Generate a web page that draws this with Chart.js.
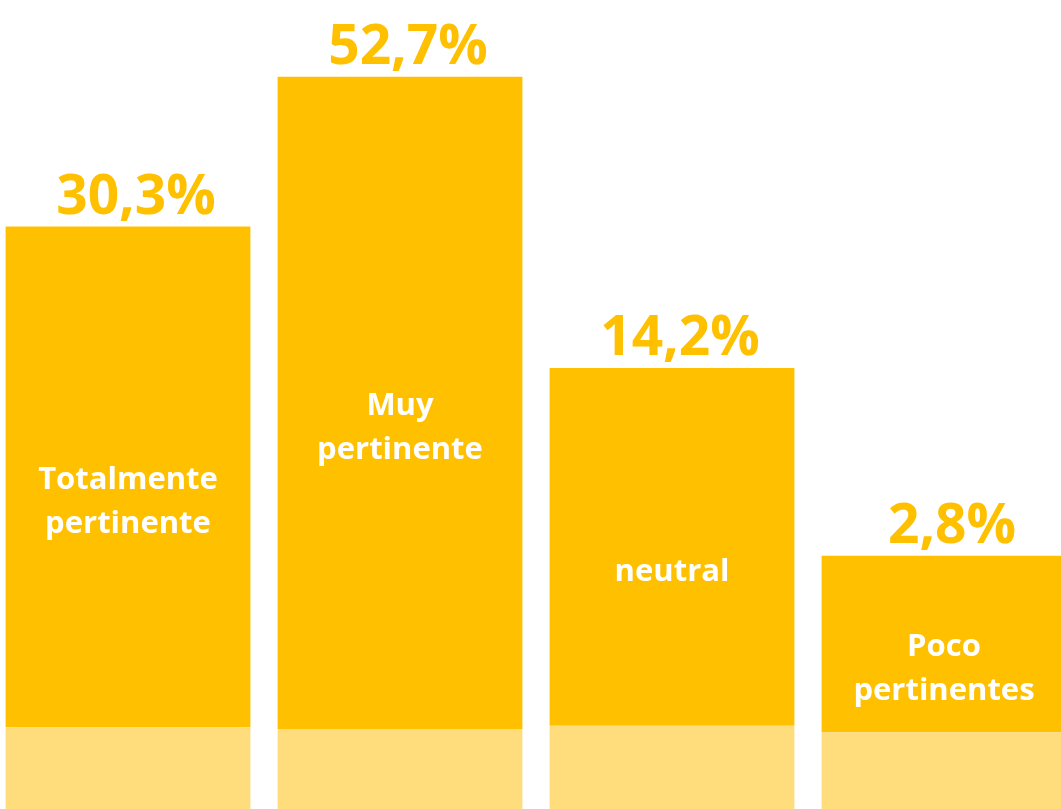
<!DOCTYPE html>
<html>
<head>
    <title>Pertinencia</title>
    <script src="https://cdn.jsdelivr.net/npm/chart.js@4/dist/chart.umd.min.js"></script>
    <style>
        body { margin: 0; overflow: hidden; background: #fff; }
        #wrap { position: absolute; left: -8px; top: 0; width: 1088px; height: 809px; }
    </style>
</head>
<body>
    <div id="wrap"><canvas id="bars"></canvas></div>

    <script>
        // categories (two lines each) and the percentages printed above the bars
        const categories = [
            ['Totalmente', 'pertinente'],
            ['Muy', 'pertinente'],
            ['neutral'],
            ['Poco', 'pertinentes']
        ];
        const percentages = [30.3, 52.7, 14.2, 2.8];

        // the drawn bars are not to scale: heights (0-100 of the frame)
        const baseHeights = [10.1, 9.9, 10.3, 9.5];
        const topHeights = [61.9, 80.6, 44.2, 21.8];

        const GOLD = '#FFC000';
        const GOLD_LIGHT = '#FFDC7C';

        // value above each bar, category name inside it
        const barLabels = {
            id: 'barLabels',
            afterDatasetsDraw(chart) {
                const ctx = chart.ctx;
                const base = chart.getDatasetMeta(0).data;
                const top = chart.getDatasetMeta(1).data;
                ctx.save();
                ctx.textAlign = 'center';
                top.forEach((bar, i) => {
                    // percentage
                    ctx.fillStyle = GOLD;
                    ctx.font = 'bold 55px "Open Sans"';
                    ctx.textBaseline = 'alphabetic';
                    const txt = percentages[i].toFixed(1).replace('.', ',') + '%';
                    ctx.fillText(txt, bar.x + 8, bar.y - 13);

                    // category
                    ctx.fillStyle = '#fff';
                    ctx.font = 'bold 31px "Open Sans"';
                    ctx.textBaseline = 'middle';
                    const lines = categories[i];
                    const lh = 44;
                    const mid = (bar.y + base[i].y) / 2 + 25;
                    lines.forEach((ln, j) => {
                        ctx.fillText(ln, bar.x, mid + (j - (lines.length - 1) / 2) * lh);
                    });
                });
                ctx.restore();
            }
        };

        new Chart(document.getElementById('bars'), {
            type: 'bar',
            data: {
                labels: categories.map(c => c.join(' ')),
                datasets: [
                    { data: baseHeights, backgroundColor: GOLD_LIGHT, borderWidth: 0 },
                    { data: topHeights, backgroundColor: GOLD, borderWidth: 0 }
                ]
            },
            options: {
                responsive: true,
                maintainAspectRatio: false,
                animation: false,
                layout: { padding: 0 },
                datasets: { bar: { barPercentage: 0.9, categoryPercentage: 1 } },
                scales: {
                    x: { stacked: true, display: false },
                    y: { stacked: true, display: false, min: 0, max: 100 }
                },
                plugins: { legend: { display: false }, tooltip: { enabled: false } }
            },
            plugins: [barLabels]
        });
    </script>
</body>
</html>
